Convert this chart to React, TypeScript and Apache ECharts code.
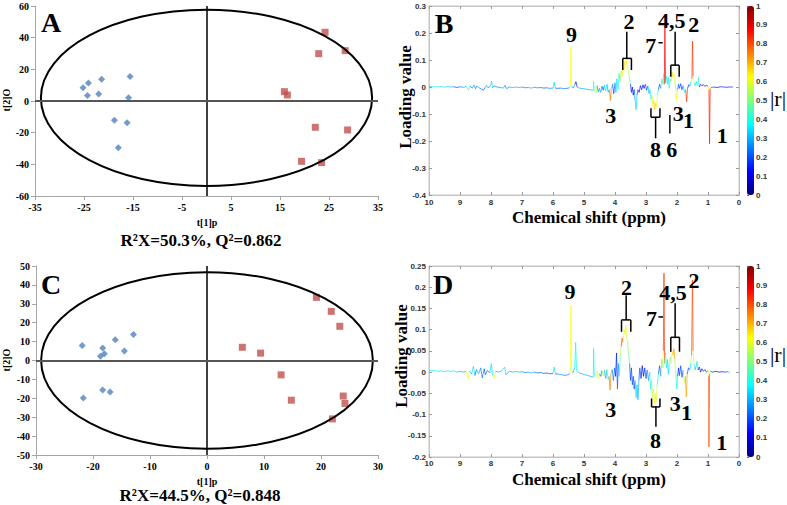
import React, { useEffect, useRef } from 'react';
import * as echarts from 'echarts';

// ---------- Panel A (OPLS-DA scores) ----------
const blueA: number[][] = [[-25.2, 8.4], [-24.1, 11.4], [-21.4, 13.7], [-15.6, 15.4], [-24.3, 3.4], [-22.0, 4.4], [-15.9, 2.1], [-18.8, -12.2], [-16.2, -13.7], [-18.0, -29.5]];
const redA: number[][] = [[24.2, 43.4], [22.9, 29.9], [28.3, 31.8], [15.9, 5.9], [16.5, 3.8], [22.2, -16.6], [28.8, -18.3], [19.4, -38.1], [23.5, -38.9]];
const ellipseA: number[] = [0, 2, 33.8, 55.7];
// ---------- Panel C ----------
const blueC: number[][] = [[-21.9, 8.0], [-18.3, 6.6], [-16.1, 11.0], [-12.9, 13.8], [-18.0, 3.6], [-18.7, 2.2], [-14.5, 5.0], [-18.3, -15.6], [-17.0, -16.7], [-21.7, -19.8]];
const redC: number[][] = [[19.2, 33.4], [21.8, 26.0], [23.3, 18.1], [6.2, 7.0], [9.4, 3.9], [13.0, -7.6], [14.8, -21.0], [23.9, -18.8], [24.2, -22.7], [22.0, -30.9]];
const ellipseC: number[] = [0, 0, 29.1, 46.7];

// ---------- Panel B spectrum: [ppm, loading, |r|] ----------
const spectrumB: number[][] = [
  [10.0, 0.002, 0.35], [9.9, 0.001, 0.3], [9.8, 0.003, 0.4], [9.7, 0.0, 0.25], [9.6, 0.002, 0.35], [9.5, -0.001, 0.2],
  [9.4, 0.002, 0.35], [9.3, 0.0, 0.25], [9.2, 0.001, 0.3], [9.1, -0.002, 0.2], [9.0, 0.001, 0.35], [8.9, -0.001, 0.25],
  [8.8, 0.002, 0.3], [8.72, -0.012, 0.4], [8.68, 0.003, 0.3], [8.6, -0.004, 0.25], [8.55, 0.008, 0.3], [8.5, -0.006, 0.2],
  [8.45, 0.004, 0.3], [8.4, -0.002, 0.2], [8.3, -0.008, 0.25], [8.25, -0.012, 0.2], [8.2, -0.004, 0.2], [8.15, 0.006, 0.3],
  [8.1, -0.003, 0.2], [8.02, 0.003, 0.25], [7.98, 0.022, 0.35], [7.95, -0.003, 0.2], [7.9, 0.004, 0.25], [7.8, 0.0, 0.2],
  [7.7, -0.002, 0.25], [7.6, -0.004, 0.3], [7.55, 0.006, 0.3], [7.5, -0.006, 0.25], [7.4, 0.0, 0.2], [7.3, -0.002, 0.3],
  [7.2, 0.0, 0.25], [7.1, -0.002, 0.3], [7.0, 0.0, 0.2], [6.9, -0.003, 0.25], [6.8, -0.002, 0.2], [6.7, -0.004, 0.3],
  [6.6, -0.001, 0.2], [6.5, -0.003, 0.25], [6.4, -0.002, 0.3], [6.3, -0.004, 0.2], [6.2, -0.003, 0.3], [6.1, -0.005, 0.25],
  [6.0, -0.004, 0.2], [5.96, 0.018, 0.35], [5.93, -0.004, 0.25], [5.85, -0.005, 0.2], [5.75, -0.004, 0.3], [5.65, -0.006, 0.25],
  [5.55, -0.005, 0.2], [5.48, -0.003, 0.35], [5.44, 0.006, 0.5], [5.42, 0.15, 0.62], [5.4, 0.004, 0.55], [5.35, -0.004, 0.3],
  [5.3, 0.008, 0.3], [5.26, 0.02, 0.15], [5.22, 0.0, 0.2], [5.15, -0.004, 0.3], [4.7, -0.012, 0.3], [4.69, 0.02, 0.4],
  [4.67, -0.01, 0.3], [4.62, -0.02, 0.55], [4.58, 0.005, 0.2], [4.54, -0.018, 0.25], [4.5, -0.005, 0.15], [4.46, -0.02, 0.3],
  [4.42, 0.003, 0.2], [4.38, -0.012, 0.2], [4.34, 0.006, 0.25], [4.3, -0.015, 0.35], [4.26, 0.01, 0.4], [4.22, -0.02, 0.3],
  [4.18, -0.01, 0.6], [4.15, -0.05, 0.75], [4.12, -0.005, 0.5], [4.08, 0.01, 0.35], [4.04, -0.025, 0.2], [4.0, 0.015, 0.4],
  [3.97, -0.02, 0.3], [3.94, 0.03, 0.35], [3.9, -0.01, 0.2], [3.87, 0.05, 0.4], [3.84, 0.02, 0.3], [3.8, 0.06, 0.55],
  [3.77, 0.04, 0.5], [3.74, 0.075, 0.62], [3.71, 0.065, 0.6], [3.68, 0.095, 0.65], [3.65, 0.08, 0.7], [3.62, 0.1, 0.62],
  [3.59, 0.07, 0.58], [3.56, 0.05, 0.5], [3.53, 0.03, 0.45], [3.5, 0.01, 0.3], [3.47, -0.02, 0.15], [3.44, 0.0, 0.1],
  [3.41, -0.03, 0.12], [3.38, -0.01, 0.15], [3.35, -0.05, 0.25], [3.32, -0.085, 0.35], [3.29, -0.03, 0.2], [3.26, -0.01, 0.1],
  [3.22, -0.02, 0.15], [3.18, 0.005, 0.1], [3.14, -0.01, 0.15], [3.1, 0.008, 0.1], [3.06, -0.005, 0.15], [3.02, 0.01, 0.12],
  [2.98, -0.012, 0.2], [2.94, 0.004, 0.15], [2.9, -0.025, 0.3], [2.87, -0.01, 0.25], [2.84, -0.045, 0.4], [2.81, -0.03, 0.35],
  [2.78, -0.07, 0.6], [2.75, -0.05, 0.55], [2.72, -0.085, 0.68], [2.69, -0.06, 0.62], [2.66, -0.075, 0.6], [2.63, -0.03, 0.4],
  [2.6, -0.01, 0.25], [2.56, 0.01, 0.2], [2.52, -0.005, 0.3], [2.49, 0.03, 0.4], [2.46, 0.01, 0.3], [2.43, 0.05, 0.5],
  [2.41, 0.01, 0.5], [2.39, 0.22, 0.88], [2.37, 0.015, 0.5], [2.34, 0.04, 0.4], [2.31, 0.01, 0.3], [2.28, 0.035, 0.35],
  [2.25, -0.005, 0.2], [2.22, 0.03, 0.45], [2.19, 0.02, 0.5], [2.16, 0.055, 0.65], [2.13, 0.035, 0.62], [2.1, 0.05, 0.6],
  [2.07, 0.02, 0.5], [2.04, -0.01, 0.3], [2.01, -0.05, 0.6], [1.98, -0.01, 0.35], [1.95, 0.01, 0.2], [1.92, -0.005, 0.15],
  [1.88, 0.012, 0.2], [1.84, -0.01, 0.2], [1.8, 0.005, 0.15], [1.76, -0.02, 0.35], [1.72, -0.01, 0.5], [1.69, -0.055, 0.82],
  [1.66, -0.005, 0.4], [1.62, 0.008, 0.15], [1.58, 0.005, 0.2], [1.55, 0.02, 0.35], [1.52, 0.03, 0.55], [1.5, 0.17, 0.82],
  [1.48, 0.04, 0.6], [1.45, 0.015, 0.4], [1.42, 0.005, 0.3], [1.38, 0.02, 0.35], [1.34, 0.005, 0.2], [1.31, 0.035, 0.4],
  [1.28, 0.0, 0.15], [1.24, 0.01, 0.12], [1.2, 0.005, 0.15], [1.15, 0.008, 0.12], [1.1, 0.003, 0.15], [1.05, 0.006, 0.12],
  [1.0, 0.002, 0.2], [0.97, -0.01, 0.6], [0.95, -0.21, 0.85], [0.93, -0.005, 0.5], [0.9, -0.002, 0.2], [0.8, 0.0, 0.15],
  [0.7, -0.002, 0.12], [0.6, 0.001, 0.15], [0.5, 0.0, 0.12], [0.4, -0.001, 0.15], [0.3, 0.0, 0.12], [0.2, 0.0, 0.15],
];

// ---------- Panel D spectrum: [ppm, loading, |r|] ----------
const spectrumD: number[][] = [
  [10.0, 0.004, 0.35], [9.9, 0.003, 0.3], [9.8, 0.004, 0.4], [9.7, 0.002, 0.3], [9.6, 0.003, 0.35], [9.5, 0.001, 0.25],
  [9.4, 0.003, 0.35], [9.3, 0.002, 0.3], [9.2, 0.003, 0.35], [9.1, 0.0, 0.25], [9.0, 0.002, 0.3], [8.9, 0.0, 0.25],
  [8.8, 0.002, 0.3], [8.73, -0.016, 0.6], [8.69, 0.002, 0.3], [8.62, -0.004, 0.25], [8.57, 0.014, 0.35], [8.52, -0.008, 0.2],
  [8.47, 0.006, 0.3], [8.4, -0.004, 0.2], [8.33, 0.01, 0.3], [8.28, -0.014, 0.25], [8.22, 0.008, 0.2], [8.18, -0.006, 0.25],
  [8.12, 0.004, 0.2], [8.04, -0.002, 0.25], [7.99, 0.02, 0.35], [7.95, -0.008, 0.3], [7.9, -0.014, 0.6], [7.85, 0.002, 0.3],
  [7.75, 0.0, 0.25], [7.65, 0.003, 0.3], [7.56, 0.012, 0.35], [7.52, -0.006, 0.25], [7.4, 0.002, 0.3], [7.3, 0.0, 0.25],
  [7.2, 0.002, 0.3], [7.1, 0.0, 0.2], [7.0, 0.001, 0.3], [6.9, -0.001, 0.25], [6.8, 0.0, 0.2], [6.7, -0.002, 0.3],
  [6.6, 0.0, 0.25], [6.5, -0.002, 0.2], [6.4, -0.001, 0.3], [6.3, -0.003, 0.2], [6.2, -0.002, 0.25], [6.1, -0.004, 0.2],
  [6.0, -0.003, 0.25], [5.96, 0.012, 0.35], [5.92, -0.004, 0.25], [5.82, -0.005, 0.2], [5.72, -0.006, 0.3], [5.62, -0.008, 0.25],
  [5.52, -0.006, 0.2], [5.47, -0.004, 0.4], [5.44, 0.01, 0.55], [5.42, 0.158, 0.62], [5.4, 0.006, 0.55], [5.36, -0.002, 0.3],
  [5.3, 0.01, 0.3], [5.27, 0.07, 0.38], [5.24, 0.004, 0.3], [5.15, -0.002, 0.3], [4.7, -0.012, 0.3], [4.69, 0.056, 0.38],
  [4.67, -0.008, 0.3], [4.62, -0.01, 0.55], [4.58, 0.002, 0.3], [4.54, -0.015, 0.6], [4.5, -0.004, 0.3], [4.46, -0.01, 0.25],
  [4.42, 0.004, 0.2], [4.38, -0.01, 0.55], [4.34, 0.004, 0.3], [4.3, -0.015, 0.3], [4.26, 0.006, 0.35], [4.22, -0.018, 0.4],
  [4.19, -0.01, 0.6], [4.16, -0.042, 0.75], [4.13, -0.004, 0.5], [4.09, 0.006, 0.35], [4.05, -0.02, 0.25], [4.01, 0.01, 0.3],
  [3.98, -0.01, 0.2], [3.95, 0.045, 0.15], [3.92, -0.04, 0.25], [3.89, 0.02, 0.3], [3.86, -0.01, 0.35], [3.83, 0.04, 0.45],
  [3.8, 0.06, 0.55], [3.77, 0.08, 0.82], [3.74, 0.07, 0.6], [3.71, 0.1, 0.62], [3.68, 0.09, 0.65], [3.65, 0.11, 0.6],
  [3.62, 0.08, 0.55], [3.59, 0.07, 0.5], [3.56, 0.04, 0.45], [3.53, 0.02, 0.35], [3.5, -0.02, 0.2], [3.47, 0.01, 0.15],
  [3.44, -0.03, 0.2], [3.41, -0.01, 0.1], [3.38, -0.04, 0.2], [3.35, -0.02, 0.25], [3.32, -0.06, 0.35], [3.29, -0.03, 0.3],
  [3.26, -0.065, 0.3], [3.23, -0.02, 0.2], [3.2, 0.01, 0.15], [3.16, -0.015, 0.2], [3.12, 0.015, 0.1], [3.08, -0.01, 0.15],
  [3.04, 0.01, 0.1], [3.0, -0.015, 0.2], [2.96, 0.005, 0.15], [2.92, -0.02, 0.3], [2.88, 0.0, 0.2], [2.85, -0.04, 0.4],
  [2.82, -0.02, 0.35], [2.79, -0.06, 0.55], [2.76, -0.04, 0.5], [2.73, -0.075, 0.62], [2.7, -0.05, 0.6], [2.67, -0.07, 0.58],
  [2.64, -0.03, 0.4], [2.6, -0.005, 0.2], [2.56, 0.015, 0.2], [2.52, -0.01, 0.3], [2.49, 0.03, 0.45], [2.46, 0.01, 0.3],
  [2.44, 0.05, 0.6], [2.42, 0.233, 0.82], [2.4, 0.02, 0.55], [2.37, 0.045, 0.45], [2.34, 0.01, 0.3], [2.31, 0.03, 0.35],
  [2.28, -0.005, 0.2], [2.25, 0.02, 0.35], [2.22, 0.035, 0.5], [2.19, 0.02, 0.55], [2.16, 0.05, 0.62], [2.13, 0.04, 0.7],
  [2.1, 0.055, 0.72], [2.07, 0.03, 0.55], [2.04, 0.0, 0.3], [2.01, -0.04, 0.4], [1.98, -0.01, 0.3], [1.95, 0.01, 0.15],
  [1.92, -0.008, 0.2], [1.88, 0.015, 0.2], [1.84, -0.012, 0.2], [1.8, 0.005, 0.15], [1.76, -0.025, 0.55], [1.73, -0.01, 0.55],
  [1.7, -0.058, 0.72], [1.67, -0.005, 0.4], [1.63, 0.01, 0.2], [1.59, 0.005, 0.15], [1.56, 0.02, 0.35], [1.53, 0.04, 0.55],
  [1.5, 0.217, 0.8], [1.48, 0.05, 0.6], [1.45, 0.02, 0.4], [1.42, 0.005, 0.3], [1.38, 0.015, 0.3], [1.35, 0.025, 0.35],
  [1.32, 0.005, 0.2], [1.28, 0.012, 0.15], [1.24, 0.0, 0.12], [1.2, 0.008, 0.15], [1.15, 0.002, 0.12], [1.1, 0.006, 0.15],
  [1.05, 0.0, 0.12], [1.0, 0.003, 0.2], [0.98, -0.01, 0.6], [0.97, -0.176, 0.8], [0.95, -0.005, 0.5], [0.92, 0.002, 0.2],
  [0.85, 0.0, 0.15], [0.75, 0.002, 0.12], [0.65, 0.0, 0.15], [0.55, 0.001, 0.12], [0.45, 0.0, 0.15], [0.35, 0.001, 0.2],
  [0.3, -0.002, 0.3],
];

// ---------- Annotation strokes (data coords): [ppm1, v1, ppm2, v2] ----------
const strokesB: number[][] = [
  [3.62, 0.205, 3.62, 0.106], [3.75, 0.106, 3.47, 0.106], [3.75, 0.106, 3.75, 0.063], [3.47, 0.106, 3.47, 0.063],
  [2.06, 0.205, 2.06, 0.081], [2.2, 0.081, 1.93, 0.081], [2.2, 0.081, 2.2, 0.038], [1.93, 0.081, 1.93, 0.038],
  [2.6, 0.164, 2.46, 0.164],
  [2.84, -0.112, 2.55, -0.112], [2.84, -0.112, 2.84, -0.079], [2.55, -0.112, 2.55, -0.079], [2.69, -0.112, 2.69, -0.19],
  [2.23, -0.104, 2.23, -0.172],
];
const strokesD: number[][] = [
  [3.64, 0.181, 3.64, 0.123], [3.79, 0.123, 3.49, 0.123], [3.79, 0.123, 3.79, 0.095], [3.49, 0.123, 3.49, 0.095],
  [2.06, 0.162, 2.06, 0.082], [2.2, 0.082, 1.92, 0.082], [2.2, 0.082, 2.2, 0.048], [1.92, 0.082, 1.92, 0.048],
  [2.6, 0.13, 2.45, 0.13],
  [2.82, -0.082, 2.55, -0.082], [2.82, -0.082, 2.82, -0.062], [2.55, -0.082, 2.55, -0.062], [2.68, -0.082, 2.68, -0.129],
];
// ---------- Annotation labels: [ppm, value, text] ----------
const labelsB: any[][] = [
  [5.4, 0.193, '9'], [3.55, 0.242, '2'], [2.17, 0.248, '4,5'], [1.46, 0.233, '2'], [2.85, 0.153, '7'],
  [4.14, -0.104, '3'], [2.69, -0.233, '8'], [2.17, -0.233, '6'], [1.96, -0.098, '3'], [1.63, -0.125, '1'], [0.54, -0.18, '1'],
];
const labelsD: any[][] = [
  [5.45, 0.19, '9'], [3.63, 0.2, '2'], [2.13, 0.187, '4,5'], [1.45, 0.217, '2'], [2.82, 0.127, '7'],
  [4.14, -0.089, '3'], [2.69, -0.16, '8'], [2.06, -0.074, '3'], [1.69, -0.095, '1'], [0.56, -0.165, '1'],
];

const SERIF = '"Liberation Serif", "Times New Roman", serif';
const SANS = '"Liberation Sans", Arial, sans-serif';
const JET = ['#00007f', '#0000ff', '#007fff', '#00ffff', '#7fff7f', '#ffff00', '#ff7f00', '#ff0000', '#7f0000'];

function toSegments(s: number[][]) {
  const out: number[][] = [];
  for (let i = 1; i < s.length; i++) {
    const a = s[i - 1], b = s[i];
    out.push([a[0], a[1], b[0], b[1], Math.abs(a[1]) > Math.abs(b[1]) ? a[2] : b[2]]);
  }
  return out;
}

const ellipseItem = (_p: any, api: any) => {
  const c = api.coord([api.value(0), api.value(1)]);
  const s = api.size([api.value(2), api.value(3)]);
  return { type: 'ellipse', shape: { cx: c[0], cy: c[1], rx: s[0], ry: s[1] }, style: { fill: 'none', stroke: '#000', lineWidth: 2 } };
};
const segItem = (colorFn: (api: any) => string, lw: number, op: number) => (_p: any, api: any) => {
  const p1 = api.coord([api.value(0), api.value(1)]);
  const p2 = api.coord([api.value(2), api.value(3)]);
  return { type: 'line', shape: { x1: p1[0], y1: p1[1], x2: p2[0], y2: p2[1] }, style: { stroke: colorFn(api), lineWidth: lw, opacity: op } };
};
const labelItem = (labels: any[][]) => (p: any, api: any) => {
  const c = api.coord([api.value(0), api.value(1)]);
  return { type: 'text', x: c[0], y: c[1], style: { text: labels[p.dataIndex][2], fontFamily: SERIF, fontWeight: 'bold', fontSize: 22, fill: '#000', align: 'center', verticalAlign: 'middle' } };
};

function scoreAxes(grid: number, min: number, max: number, interval: number) {
  return {
    gridIndex: grid, type: 'value', min, max, interval,
    axisLine: { onZero: false, lineStyle: { color: '#a6a6a6', width: 1 } },
    axisTick: { show: true, length: 4, lineStyle: { color: '#a6a6a6' } },
    axisLabel: { margin: 6, fontFamily: SERIF, fontWeight: 'bold', fontSize: 10, color: '#000' },
    splitLine: { show: false },
  };
}
function specAxis(grid: number, extra: any) {
  return {
    gridIndex: grid, type: 'value',
    axisLine: { onZero: false, lineStyle: { color: '#c4c4c4', width: 1 } },
    axisTick: { show: true, inside: true, length: 3, lineStyle: { color: '#9a9a9a' } },
    axisLabel: { margin: 3, fontFamily: SANS, fontWeight: 'bold', fontSize: 8, color: '#333' },
    splitLine: { show: false },
    ...extra,
  };
}
function barAxis(grid: number) {
  return specAxis(grid, {
    min: 0, max: 1, interval: 0.1, position: 'right', axisLine: { show: false },
    axisTick: { show: true, inside: false, length: 2, lineStyle: { color: '#666' } },
    axisLabel: { margin: 2, fontFamily: SANS, fontWeight: 'bold', fontSize: 8, color: '#333' },
  });
}

const zeroLines = {
  silent: true, symbol: 'none', label: { show: false }, animation: false,
  data: [
    { xAxis: 0, lineStyle: { color: '#000', width: 1.5, type: 'solid' } },
    { yAxis: 0, lineStyle: { color: '#555', width: 2, type: 'solid' } },
  ],
};

function txt(text: string, x: number, y: number, size: number, opts: any = {}) {
  return {
    type: 'text', x, y, rotation: opts.rotation || 0, z: 50,
    style: { text, fontFamily: opts.family || SERIF, fontWeight: opts.weight || 'bold', fontSize: size, fill: '#000', stroke: 'none', align: 'center', verticalAlign: 'middle' },
  };
}

export default function App() {
  const ref = useRef<HTMLDivElement>(null);
  useEffect(() => {
    const chart = echarts.init(ref.current!, null, { renderer: 'svg' });
    const option: any = {
      animation: false,
      backgroundColor: '#fff',
      grid: [
        { left: 35, top: 6, width: 343, height: 190 },
        { left: 36, top: 266, width: 342, height: 189 },
        { left: 429, top: 6, width: 310, height: 189, show: true, borderColor: '#c4c4c4', borderWidth: 1 },
        { left: 429, top: 266, width: 310, height: 191, show: true, borderColor: '#c4c4c4', borderWidth: 1 },
        { left: 747, top: 6, width: 7, height: 189 },
        { left: 747, top: 266, width: 7, height: 191 },
      ],
      xAxis: [
        scoreAxes(0, -35, 35, 10),
        scoreAxes(1, -30, 30, 10),
        specAxis(2, { min: 0, max: 10, interval: 1, inverse: true }),
        specAxis(2, { min: 0, max: 10, interval: 1, inverse: true, position: 'top', axisLabel: { show: false } }),
        specAxis(3, { min: 0, max: 10, interval: 1, inverse: true, axisLabel: { margin: 2, fontFamily: SANS, fontWeight: 'bold', fontSize: 8, color: '#333' } }),
        specAxis(3, { min: 0, max: 10, interval: 1, inverse: true, position: 'top', axisLabel: { show: false } }),
        { gridIndex: 4, type: 'value', min: 0, max: 1, show: false },
        { gridIndex: 5, type: 'value', min: 0, max: 1, show: false },
      ],
      yAxis: [
        scoreAxes(0, -60, 60, 20),
        scoreAxes(1, -50, 50, 10),
        specAxis(2, { min: -0.4, max: 0.3, interval: 0.1 }),
        specAxis(2, { min: -0.4, max: 0.3, interval: 0.1, position: 'right', axisLabel: { show: false } }),
        specAxis(3, { min: -0.2, max: 0.25, interval: 0.05 }),
        specAxis(3, { min: -0.2, max: 0.25, interval: 0.05, position: 'right', axisLabel: { show: false } }),
        barAxis(4),
        barAxis(5),
      ],
      visualMap: [
        { type: 'continuous', seriesIndex: 6, dimension: 4, min: 0, max: 1, left: 747, top: 6, itemWidth: 7, itemHeight: 189, padding: 0, calculable: false, showLabel: false, text: null, hoverLink: false, inRange: { color: JET } },
        { type: 'continuous', seriesIndex: 9, dimension: 4, min: 0, max: 1, left: 747, top: 266, itemWidth: 7, itemHeight: 191, padding: 0, calculable: false, showLabel: false, text: null, hoverLink: false, inRange: { color: JET } },
      ],
      series: [
        { type: 'scatter', xAxisIndex: 0, yAxisIndex: 0, data: blueA, symbol: 'diamond', symbolSize: 7, itemStyle: { color: '#4f81bd' }, markLine: zeroLines, z: 3 },
        { type: 'scatter', xAxisIndex: 0, yAxisIndex: 0, data: redA, symbol: 'rect', symbolSize: 7, itemStyle: { color: '#c0504d' }, z: 3 },
        { type: 'custom', xAxisIndex: 0, yAxisIndex: 0, data: [ellipseA], renderItem: ellipseItem, z: 4 },
        { type: 'scatter', xAxisIndex: 1, yAxisIndex: 1, data: blueC, symbol: 'diamond', symbolSize: 7, itemStyle: { color: '#4f81bd' }, markLine: zeroLines, z: 3 },
        { type: 'scatter', xAxisIndex: 1, yAxisIndex: 1, data: redC, symbol: 'rect', symbolSize: 7, itemStyle: { color: '#c0504d' }, z: 3 },
        { type: 'custom', xAxisIndex: 1, yAxisIndex: 1, data: [ellipseC], renderItem: ellipseItem, z: 4 },
        { type: 'custom', xAxisIndex: 2, yAxisIndex: 2, data: toSegments(spectrumB), encode: { x: [0, 2], y: [1, 3] }, renderItem: segItem((api) => api.visual('color'), 1, 0.7) },
        { type: 'custom', xAxisIndex: 2, yAxisIndex: 2, data: strokesB, encode: { x: [0, 2], y: [1, 3] }, renderItem: segItem(() => '#000', 1.5, 1) },
        { type: 'custom', xAxisIndex: 2, yAxisIndex: 2, data: labelsB.map((l) => [l[0], l[1]]), renderItem: labelItem(labelsB) },
        { type: 'custom', xAxisIndex: 4, yAxisIndex: 4, data: toSegments(spectrumD), encode: { x: [0, 2], y: [1, 3] }, renderItem: segItem((api) => api.visual('color'), 1, 0.7) },
        { type: 'custom', xAxisIndex: 4, yAxisIndex: 4, data: strokesD, encode: { x: [0, 2], y: [1, 3] }, renderItem: segItem(() => '#000', 1.5, 1) },
        { type: 'custom', xAxisIndex: 4, yAxisIndex: 4, data: labelsD.map((l) => [l[0], l[1]]), renderItem: labelItem(labelsD) },
      ],
      graphic: [
        txt('A', 51, 22, 28), txt('B', 444, 23, 28), txt('C', 51, 284, 28), txt('D', 443, 284, 28),
        txt('t[1]p', 207, 222, 10), txt('t[1]p', 207, 481, 10),
        txt('t[2]O', 6, 100, 10, { rotation: Math.PI / 2 }), txt('t[2]O', 6, 360, 10, { rotation: Math.PI / 2 }),
        txt('R²X=50.3%, Q²=0.862', 201, 240, 17), txt('R²X=44.5%, Q²=0.848', 200, 495, 17),
        txt('Loading value', 405, 97, 17, { rotation: Math.PI / 2 }), txt('Loading value', 401, 356, 17, { rotation: Math.PI / 2 }),
        txt('Chemical shift (ppm)', 589, 217, 17), txt('Chemical shift (ppm)', 589, 479, 17),
        txt('|r|', 778, 98, 22, { weight: 'normal' }), txt('|r|', 778, 354, 22, { weight: 'normal' }),
      ],
    };
    chart.setOption(option);
    return () => chart.dispose();
  }, []);
  return <div ref={ref} style={{ position: 'absolute', left: 0, top: 0, width: 787, height: 505 }} />;
}
